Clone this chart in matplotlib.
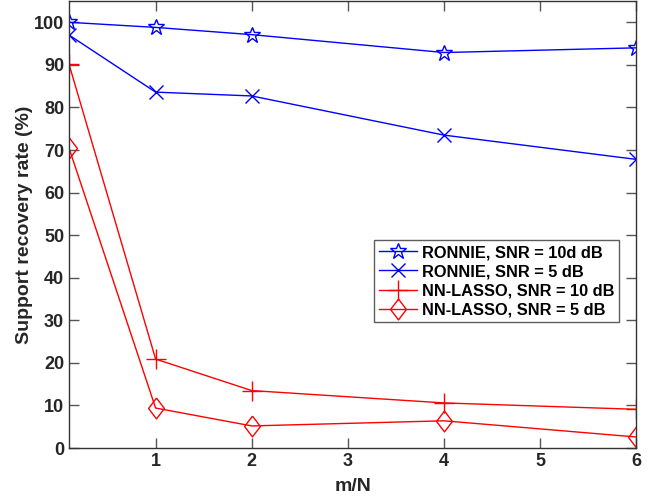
import numpy as np
import matplotlib.pyplot as plt

plt.rcParams['font.family'] = ['Liberation Sans', 'DejaVu Sans']
plt.rcParams['font.weight'] = 'bold'

# m/N values
mn = [0.1, 1, 2, 4, 6]

ronnie_10 = [100, 98.8, 97.1, 92.9, 94.0]
ronnie_5 = [97.0, 83.6, 82.7, 73.5, 67.8]
lasso_10 = [90.1, 20.9, 13.5, 10.6, 9.1]
lasso_5 = [70.4, 9.4, 5.2, 6.4, 2.6]

labels = ['RONNIE, SNR = 10d dB', 'RONNIE, SNR = 5 dB',
          'NN-LASSO, SNR = 10 dB', 'NN-LASSO, SNR = 5 dB']

# matlab-ish tall diamond
diamond = [(0, 1), (0.76, 0), (0, -1), (-0.76, 0), (0, 1)]

fig = plt.figure(figsize=(6.58, 5.04), dpi=100)
ax = fig.add_axes([0.105, 0.111, 0.862, 0.887])

ax.plot(mn, ronnie_10, color='blue', lw=1, marker='*', ms=12, mfc='none', mew=1, label=labels[0])
ax.plot(mn, ronnie_5, color='blue', lw=1, marker='x', ms=10, mew=1, label=labels[1])
ax.plot(mn, lasso_10, color='red', lw=1, marker='+', ms=14, mew=1, label=labels[2])
ax.plot(mn, lasso_5, color='red', lw=1, marker=diamond, ms=15, mfc='none', mew=1, label=labels[3])

ax.set_xlim(0.1, 6)
ax.set_ylim(0, 105)
ax.set_xticks([1, 2, 3, 4, 5, 6])
ax.set_yticks(np.arange(0, 101, 10))
ax.tick_params(direction='in', top=True, right=True, length=7, width=1,
               color='#555555', labelsize=13, labelcolor='#262626')
for lab in ax.get_xticklabels() + ax.get_yticklabels():
    lab.set_fontweight('bold')
for sp in ax.spines.values():
    sp.set_color('#333333')
    sp.set_linewidth(1)

ax.set_xlabel('m/N', fontsize=14, fontweight='bold', color='#262626', labelpad=6)
ax.set_ylabel('Support recovery rate (%)', fontsize=14, fontweight='bold', color='#262626', labelpad=1)

leg = ax.legend(loc='upper right', bbox_to_anchor=(0.97, 0.465), borderaxespad=0,
                fancybox=False, edgecolor='#333333', handlelength=2.3,
                prop={'weight': 'bold', 'size': 11.8}, labelspacing=0.25,
                handletextpad=0.3, borderpad=0.3)
leg.get_frame().set_linewidth(1)

fig.savefig('out.png', dpi=100)
